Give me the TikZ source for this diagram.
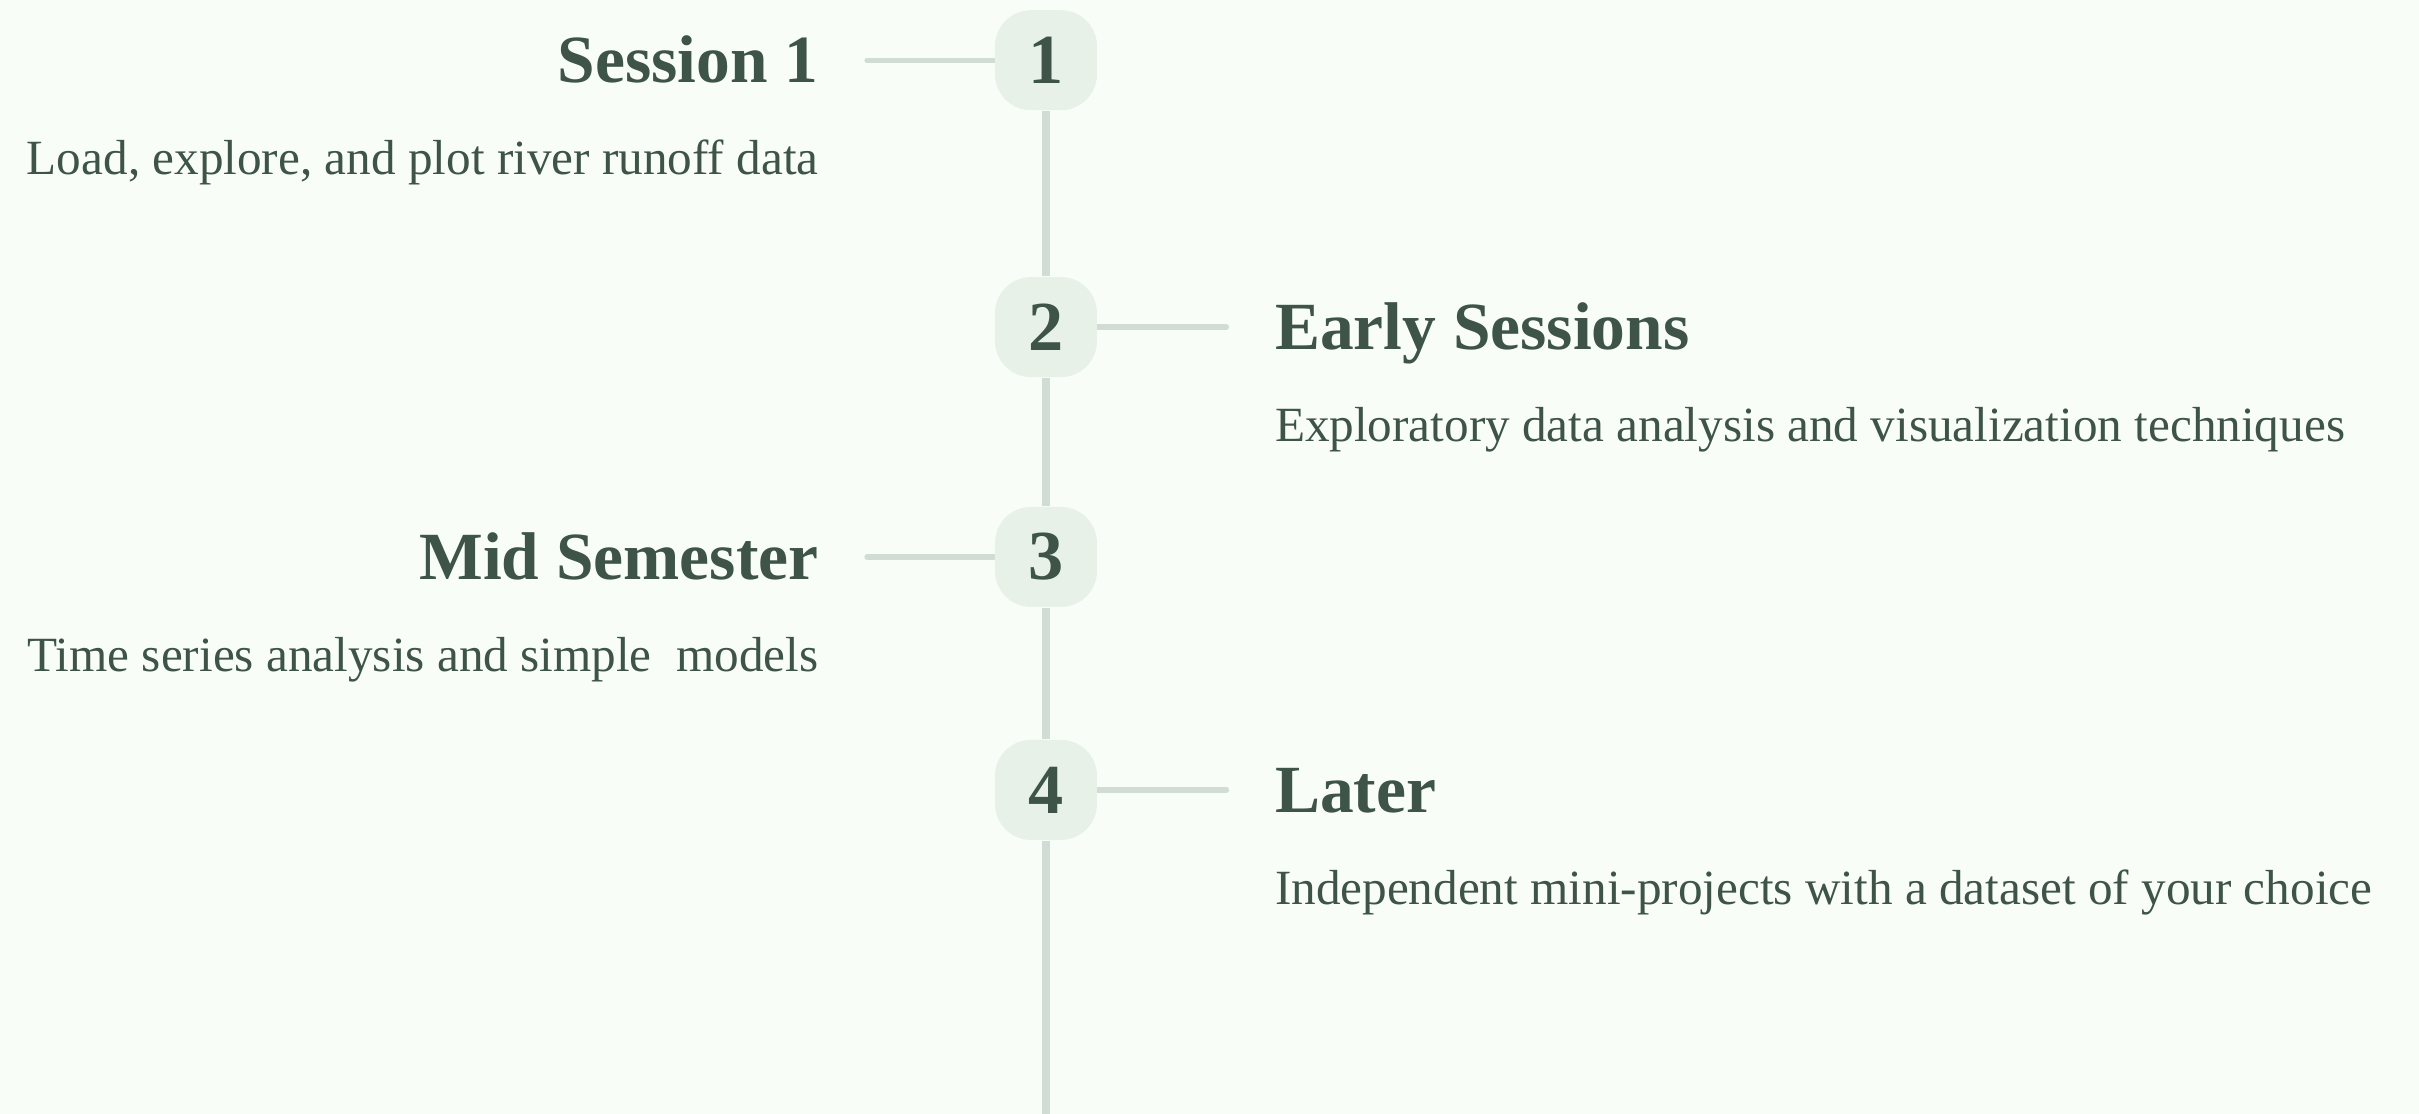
\documentclass[tikz,border=0pt]{standalone}
\usepackage{fontspec}
\setmainfont{Liberation Serif}
\usepackage{xcolor}
\usetikzlibrary{positioning,backgrounds}

\definecolor{pagebg}{HTML}{F8FDF8}
\definecolor{stepfill}{HTML}{E7F1E7}
\definecolor{rail}{HTML}{D1DCD4}
\definecolor{ink}{HTML}{3E5448}

\tikzset{
  stepbox/.style={fill=stepfill,rounded corners=0.36cm,minimum width=1.02cm,minimum height=1.0cm,
    inner sep=0pt,text=ink,font=\fontsize{20}{24}\selectfont\bfseries},
  title/.style={inner sep=0pt,text=ink,font=\fontsize{19.2}{23}\selectfont\bfseries},
  desc/.style={inner sep=0pt,text=ink,font=\fontsize{14}{17}\selectfont},
  railline/.style={draw=rail,line width=2pt},
  tickline/.style={draw=rail,line width=1.5pt,line cap=round},
}

\begin{document}
\begin{tikzpicture}[x=0.015427cm,y=-0.015427cm]
\useasboundingbox (0,0) rectangle (1568,722);

% steps on the rail
\node[stepbox] (s1) at (678,39) {1};
\node[stepbox] (s2) at (678,212) {2};
\node[stepbox] (s3) at (678,361) {3};
\node[stepbox] (s4) at (678,512) {4};
\coordinate (railend) at (678,722);

% left side
\node[title,anchor=base east] (h1) at (531,53.5) {Session 1};
\node[desc,anchor=base east] (d1) at (531,113) {Load, explore, and plot river runoff data};
\node[title,anchor=base east] (h3) at (531,375.5) {Mid Semester};
\node[desc,anchor=base east] (d3) at (531,435) {Time series analysis and simple~ models};

% right side
\node[title,anchor=base west] (h2) at (826,226.5) {Early Sessions};
\node[desc,anchor=base west] (d2) at (826,286) {Exploratory data analysis and visualization techniques};
\node[title,anchor=base west] (h4) at (826,526.5) {Later};
\node[desc,anchor=base west] (d4) at (826,586) {Independent mini-projects with a dataset of your choice};

\coordinate (t1) at (562,39);
\coordinate (t2) at (795,212);
\coordinate (t3) at (562,361);
\coordinate (t4) at (795,512);

\begin{scope}[on background layer]
\fill[pagebg] (0,0) rectangle (1568,722);
\draw[railline] (s1) -- (s2) (s2) -- (s3) (s3) -- (s4) (s4) -- (railend);
\draw[tickline] (t1) -- (s1);
\draw[tickline] (t2) -- (s2);
\draw[tickline] (t3) -- (s3);
\draw[tickline] (t4) -- (s4);
\end{scope}
\end{tikzpicture}
\end{document}
